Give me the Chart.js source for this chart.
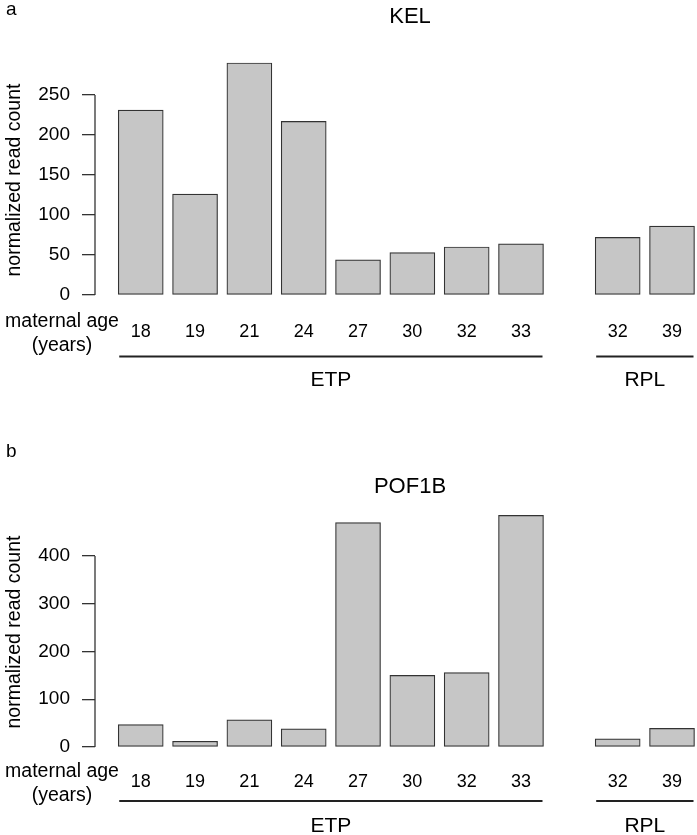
<!DOCTYPE html>
<html>
<head>
<meta charset="utf-8">
<script src="https://cdn.jsdelivr.net/npm/chart.js@4.4.0/dist/chart.umd.min.js"></script>
<style>
body { margin: 0; background: #fff; }
#wrap { position: relative; width: 697px; height: 835px; }
canvas { position: absolute; left: 0; }
</style>
</head>
<body>
<div id="wrap">
  <canvas id="kelChart" width="697" height="417" style="top:0"></canvas>
  <canvas id="pofChart" width="697" height="418" style="top:417px"></canvas>
</div>
<script>
// data
const ages = ['18', '19', '21', '24', '27', '30', '32', '33', '32', '39'];
const groups = ['ETP', 'ETP', 'ETP', 'ETP', 'ETP', 'ETP', 'ETP', 'ETP', 'RPL', 'RPL'];
const kelValues = [231, 126, 290, 217, 44, 53, 60, 64, 72, 86];
const pofValues = [47, 12, 57, 38, 470, 150, 156, 485, 17, 39];
const kelTicks = [0, 50, 100, 150, 200, 250];
const pofTicks = [0, 100, 200, 300, 400];

const FONT = '"Liberation Sans", Arial, sans-serif';
Chart.defaults.font.family = FONT;
Chart.defaults.color = '#000';

const BAR_W = 45;
const GROUP_GAP = 0.78;

function barPos(i) {
    return i + (groups[i] === 'RPL' ? GROUP_GAP : 0);
}

// R style extras: short y axis line, panel letter, title, group underlines
const rDecor = {
    id: 'rDecor',
    afterDraw(chart, args, o) {
        const { ctx, scales: { x, y } } = chart;
        ctx.save();
        ctx.strokeStyle = '#333';
        ctx.lineWidth = 1.3;
        ctx.beginPath();
        ctx.moveTo(chart.chartArea.left, y.getPixelForValue(o.ticks[0]));
        ctx.lineTo(chart.chartArea.left, y.getPixelForValue(o.ticks[o.ticks.length - 1]));
        ctx.stroke();

        ctx.fillStyle = '#000';
        ctx.textBaseline = 'alphabetic';
        ctx.font = '19px ' + FONT;
        ctx.textAlign = 'left';
        ctx.fillText(o.letter, 6, o.letterY);

        ctx.font = '22px ' + FONT;
        ctx.textAlign = 'center';
        ctx.fillText(o.title, 410, o.titleY);

        ctx.font = '19.5px ' + FONT;
        ctx.fillText('maternal age', 62, o.ageY);
        ctx.fillText('(years)', 62, o.ageY + 24);

        ctx.save();
        ctx.translate(20, o.yTitleY);
        ctx.rotate(-Math.PI / 2);
        ctx.fillText('normalized read count', 0, 0);
        ctx.restore();

        // group lines and labels
        const names = [...new Set(groups)];
        ctx.strokeStyle = '#222';
        ctx.lineWidth = 2;
        ctx.font = '21px ' + FONT;
        names.forEach(g => {
            const first = groups.indexOf(g);
            const last = groups.lastIndexOf(g);
            const x0 = x.getPixelForValue(barPos(first)) - BAR_W / 2 + 1;
            const x1 = x.getPixelForValue(barPos(last)) + BAR_W / 2 - 1;
            ctx.beginPath();
            ctx.moveTo(x0, o.lineY);
            ctx.lineTo(x1, o.lineY);
            ctx.stroke();
            ctx.fillText(g, (x0 + x1) / 2, o.groupY);
        });
        ctx.restore();
    }
};

function makeChart(id, values, ticks, yMax, pad, deco) {
    const ctx = document.getElementById(id).getContext('2d');
    return new Chart(ctx, {
        type: 'bar',
        data: {
            datasets: [{
                data: values.map((v, i) => ({ x: barPos(i), y: v })),
                backgroundColor: '#c6c6c6',
                borderColor: '#333',
                borderWidth: 1.2,
                borderSkipped: false,
                barThickness: BAR_W
            }]
        },
        options: {
            responsive: false,
            animation: false,
            layout: { padding: { top: pad.top, bottom: pad.bottom, left: 0, right: 0 } },
            plugins: {
                legend: { display: false },
                title: { display: false },
                tooltip: { enabled: false },
                rDecor: deco
            },
            scales: {
                x: {
                    type: 'linear',
                    offset: false,
                    min: -0.842,
                    max: 10.24,
                    grid: { display: false, drawTicks: false, offset: false },
                    border: { display: false },
                    afterBuildTicks: s => { s.ticks = ages.map((a, i) => ({ value: barPos(i) })); },
                    afterFit: s => {
                        s.height = 60;
                        s.paddingLeft = 0;
                        s.paddingRight = 0;
                    },
                    ticks: {
                        autoSkip: false,
                        maxRotation: 0,
                        padding: pad.xTick,
                        font: { size: 18 },
                        color: '#000',
                        callback: (v, i) => ages[i]
                    }
                },
                y: {
                    min: 0,
                    max: yMax,
                    grid: { drawOnChartArea: false, drawTicks: true, tickLength: 13, color: '#333', lineWidth: 1.3 },
                    border: { display: false },
                    afterBuildTicks: s => { s.ticks = ticks.map(v => ({ value: v })); },
                    afterFit: s => {
                        s.width = 95;
                        s.paddingTop = 0;
                        s.paddingBottom = 0;
                    },
                    ticks: { padding: 12, font: { size: 19 }, color: '#000' }
                }
            }
        },
        plugins: [rDecor]
    });
}

makeChart('kelChart', kelValues, kelTicks, 300,
    { top: 55, bottom: 62, xTick: 26.5 },
    { ticks: kelTicks, letter: 'a', letterY: 15, title: 'KEL', titleY: 23, ageY: 327, yTitleY: 180, lineY: 356.5, groupY: 386 });

makeChart('pofChart', pofValues, pofTicks, 500,
    { top: 91.25, bottom: 28, xTick: 24.5 },
    { ticks: pofTicks, letter: 'b', letterY: 40, title: 'POF1B', titleY: 76, ageY: 360, yTitleY: 215, lineY: 384, groupY: 415 });
</script>
</body>
</html>
